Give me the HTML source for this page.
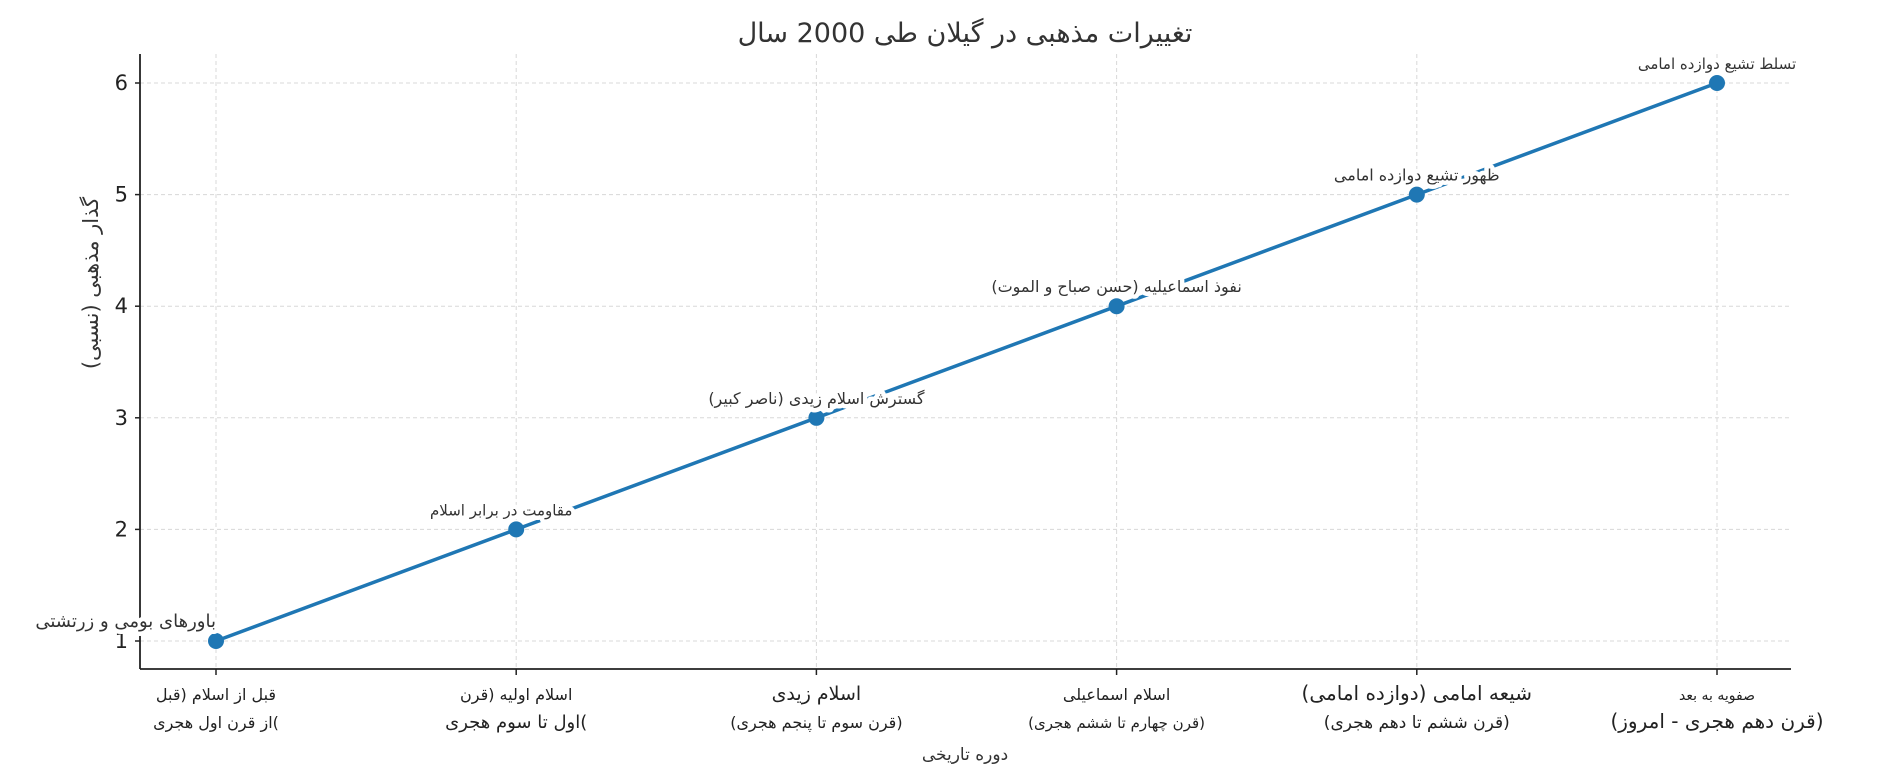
<!DOCTYPE html>
<html><head><meta charset="utf-8"><style>
html,body{margin:0;padding:0;background:#fff}
svg{display:block;font-family:"DejaVu Sans","Liberation Sans",sans-serif}
.ann{font-size:15px;fill:#333;stroke:#fff;stroke-width:9px;paint-order:stroke;stroke-linejoin:round}
.xl{fill:#222;text-anchor:middle}
</style></head><body>
<svg id="chart" width="1889" height="784" viewBox="0 0 1889 784" xmlns="http://www.w3.org/2000/svg">
<text x="965" y="42" font-size="27" text-anchor="middle" fill="#333">تغییرات مذهبی در گیلان طی 2000 سال</text>
<g id="grid"></g>
<g id="axes"></g>
<g id="series"></g>
<g id="anns"></g>
<text x="965" y="760" font-size="17" text-anchor="middle" fill="#333">دوره تاریخی</text>
<text transform="translate(98,283) rotate(-90)" font-size="21" text-anchor="middle" fill="#333">گذار مذهبی (نسبی)</text>
</svg>
<script>
const categoriesLine1 = ["قبل از اسلام (قبل","اسلام اولیه (قرن","اسلام زیدی","اسلام اسماعیلی","شیعه امامی (دوازده امامی)","صفویه به بعد"];
const categoriesLine2 = ["از قرن اول هجری(","اول تا سوم هجری(","(قرن سوم تا پنجم هجری)","(قرن چهارم تا ششم هجری)","(قرن ششم تا دهم هجری)","(قرن دهم هجری - امروز)"];
const values = [1,2,3,4,5,6];
const annotations = ["باورهای بومی و زرتشتی","مقاومت در برابر اسلام","گسترش اسلام زیدی (ناصر کبیر)","نفوذ اسماعیلیه (حسن صباح و الموت)","ظهور تشیع دوازده امامی","تسلط تشیع دوازده امامی"];
const yTicks = [1,2,3,4,5,6];

const NS="http://www.w3.org/2000/svg";
const L=140,R=1791,T=54,B=669;
const x=i=>216+i*(1717-216)/5;
const y=v=>641-(v-1)*(641-83)/5;
const xFont1=[16,16,19,16,20,14], xFont2=[16,18,16,15,17,20];
const annFont=[18,15,16,16,16,15];
function mk(tag,attrs,parent){const e=document.createElementNS(NS,tag);for(const k in attrs)e.setAttribute(k,attrs[k]);parent.appendChild(e);return e;}
const grid=document.getElementById('grid'),axes=document.getElementById('axes'),ser=document.getElementById('series'),anns=document.getElementById('anns');
yTicks.forEach(t=>{
 const g=mk('line',{x1:L,x2:R,y1:y(t),y2:y(t),stroke:'#d8d8d8','stroke-dasharray':'4,3','stroke-width':1},grid);
 
 
 const tk=mk('line',{x1:L-5,x2:L,y1:y(t),y2:y(t),stroke:'#222','stroke-width':1.5},axes);
 
 
 const tl=mk('text',{x:L-12,y:y(t)+7,'font-size':21,'text-anchor':'end',fill:'#222'},axes);
 tl.textContent=t;
 
 
});
categoriesLine1.forEach((c,i)=>{
 const g=mk('line',{x1:x(i),x2:x(i),y1:T,y2:B,stroke:'#d8d8d8','stroke-dasharray':'4,3','stroke-width':1},grid);
 
 
 const tk=mk('line',{x1:x(i),x2:x(i),y1:B,y2:B+6,stroke:'#222','stroke-width':1.5},axes);
 
 
 const t1=mk('text',{x:x(i),y:700,'font-size':xFont1[i],class:'xl'},axes);
 t1.textContent=c;
 
 
 const t2=mk('text',{x:x(i),y:728,'font-size':xFont2[i],class:'xl'},axes);
 t2.textContent=categoriesLine2[i];
 
 
});
const sp=mk('line',{x1:L,x2:L,y1:T,y2:B,stroke:'#222','stroke-width':1.8},axes);


const sb=mk('line',{x1:L,x2:R,y1:B,y2:B,stroke:'#222','stroke-width':1.8},axes);


const pl=mk('polyline',{points:values.map((v,i)=>x(i)+','+y(v)).join(' '),fill:'none',stroke:'#1f77b4','stroke-width':3.5},ser);


values.forEach((v,i)=>{
 const c=mk('circle',{cx:x(i),cy:y(v),r:8,fill:'#1f77b4'},ser);
 
 
});
const annAnchor=['end','middle','middle','middle','middle','middle'];
const annDx=[0,-15,0,0,0,0];
annotations.forEach((a,i)=>{
 const t=mk('text',{x:x(i)+annDx[i],y:y(values[i])-14,class:'ann','text-anchor':annAnchor[i],'font-size':annFont[i],style:'font-size:'+annFont[i]+'px'},anns);
 t.textContent=a;
 
 
});
</script>
</body></html>
